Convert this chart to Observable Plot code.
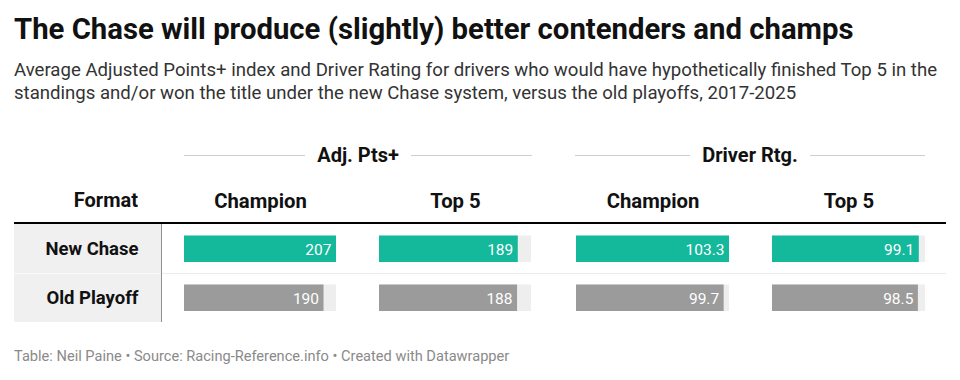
<!DOCTYPE html>
<html>
<head>
<meta charset="utf-8">
<script src="https://cdn.jsdelivr.net/npm/d3@7"></script>
<script src="https://cdn.jsdelivr.net/npm/@observablehq/plot@0.6"></script>
<style>
  html, body { margin: 0; padding: 0; background: #fff; }
  #root { position: relative; width: 960px; height: 380px; overflow: hidden; font-family: Roboto, sans-serif; color: #111; }
  .abs { position: absolute; }
  #title { left: 14px; top: 15px; font-size: 29.3px; font-weight: 700; line-height: 1; white-space: nowrap; color: #111; }
  #subtitle { left: 14px; top: 59px; width: 940px; font-size: 18.6px; line-height: 23.3px; color: #333; }
  .group { top: 145px; height: 20px; display: flex; align-items: center; font-size: 20px; font-weight: 700; line-height: 1; }
  .group .rule { flex: 1; height: 1px; background: #cfcfcf; }
  .group span { padding: 0 12px; }
  #formatHead { left: 14px; width: 124px; top: 190px; text-align: right; font-size: 20px; font-weight: 700; line-height: 1; }
  #topRule { left: 14px; width: 932px; top: 222px; height: 2px; background: #000; }
  .rowbg { left: 14px; width: 147px; background: #f0f0f0; }
  #vRule { left: 160.5px; top: 224px; width: 1.5px; height: 98px; background: #8f8f8f; }
  #sep1 { left: 14px; width: 147px; top: 273px; height: 1px; background: #f9f9f9; }
  #sep2 { left: 162px; width: 784px; top: 273px; height: 1px; background: #ebebeb; }
  #plots svg { position: absolute; top: 171px; overflow: visible; }
  #footer { left: 14px; top: 349px; font-size: 14.6px; line-height: 1; color: #8a8a8a; white-space: nowrap; }
</style>
</head>
<body>
<div id="root">
  <div id="title" class="abs"></div>
  <div id="subtitle" class="abs"></div>
  <div id="formatHead" class="abs"></div>
  <div id="topRule" class="abs"></div>
  <div class="abs rowbg" style="top:224px;height:49px"></div>
  <div class="abs rowbg" style="top:274px;height:48px"></div>
  <div id="sep1" class="abs"></div>
  <div id="sep2" class="abs"></div>
  <div id="vRule" class="abs"></div>
  <div id="groups"></div>
  <div id="plots"></div>
  <div id="footer" class="abs"></div>
</div>
<script>
// ---- Data ----
const titleText = "The Chase will produce (slightly) better contenders and champs";
const subtitleText = "Average Adjusted Points+ index and Driver Rating for drivers who would have hypothetically finished Top 5 in the standings and/or won the title under the new Chase system, versus the old playoffs, 2017-2025";
const footerText = "Table: Neil Paine • Source: Racing-Reference.info • Created with Datawrapper";
const formatHeader = "Format";
const formats = ["New Chase", "Old Playoff"];
const columns = ["Champion", "Top 5"];
const groups = ["Adj. Pts+", "Driver Rtg."];
const adjPtsChampion = [207, 190];
const adjPtsTop5 = [189, 188];
const driverRtgChampion = [103.3, 99.7];
const driverRtgTop5 = [99.1, 98.5];

const teal = "#14b89b";
const gray = "#9b9b9b";
const track = "#eeeeee";

document.getElementById("title").textContent = titleText;
document.getElementById("subtitle").textContent = subtitleText;
document.getElementById("footer").textContent = footerText;
document.getElementById("formatHead").textContent = formatHeader;

function rowsFor(champ, top5) {
  return formats.flatMap((f, i) => [
    {format: f, column: columns[0], value: champ[i]},
    {format: f, column: columns[1], value: top5[i]}
  ]);
}

function makeTable({rows, fmt, width, marginLeft, marginRight, showY}) {
  const xMax = d3.max(rows, d => d.value);
  const marks = [
    Plot.axisFx({anchor: "top", tickSize: 0, tickPadding: 17, fontSize: 20.3, fontWeight: "bold", fill: "#111", label: null}),
    Plot.barX(rows, {fx: "column", y: "format", x: () => xMax, fill: track, insetTop: 11.5, insetBottom: 11}),
    Plot.barX(rows, {fx: "column", y: "format", x: "value", fill: "format", insetTop: 11.5, insetBottom: 11}),
    Plot.text(rows, {fx: "column", y: "format", x: "value", text: d => fmt(d.value), textAnchor: "end", dx: -5, dy: 1.5, fill: "white", fontSize: 15.5})
  ];
  if (showY) marks.unshift(Plot.axisY({anchor: "left", tickSize: 0, tickPadding: 46, fontSize: 18.5, fontWeight: "bold", fill: "#111", label: null}));
  return Plot.plot({
    width, height: 151,
    marginTop: 53, marginBottom: 0, marginLeft, marginRight,
    style: {fontFamily: "Roboto, sans-serif", background: "transparent", overflow: "visible"},
    fx: {domain: columns, paddingInner: 0.22, paddingOuter: 0, label: null},
    x: {domain: [0, xMax], axis: null},
    y: showY ? {domain: formats, padding: 0, label: null} : {domain: formats, padding: 0, axis: null},
    color: {domain: formats, range: [teal, gray]},
    marks
  });
}

const plots = document.getElementById("plots");
const p1 = makeTable({rows: rowsFor(adjPtsChampion, adjPtsTop5), fmt: d3.format("d"), width: 553, marginLeft: 184, marginRight: 21, showY: true});
p1.style.left = "0px";
const p2 = makeTable({rows: rowsFor(driverRtgChampion, driverRtgTop5), fmt: d3.format(".1f"), width: 407, marginLeft: 22, marginRight: 35, showY: false});
p2.style.left = "553px";
plots.append(p1, p2);

// group headers
const groupSpans = [[184, 532], [575, 925]];
const gEl = document.getElementById("groups");
groups.forEach((g, i) => {
  const d = document.createElement("div");
  d.className = "abs group";
  d.style.left = groupSpans[i][0] + "px";
  d.style.width = (groupSpans[i][1] - groupSpans[i][0]) + "px";
  d.innerHTML = '<div class="rule"></div><span></span><div class="rule"></div>';
  d.querySelector("span").textContent = g;
  gEl.append(d);
});
</script>
</body>
</html>
